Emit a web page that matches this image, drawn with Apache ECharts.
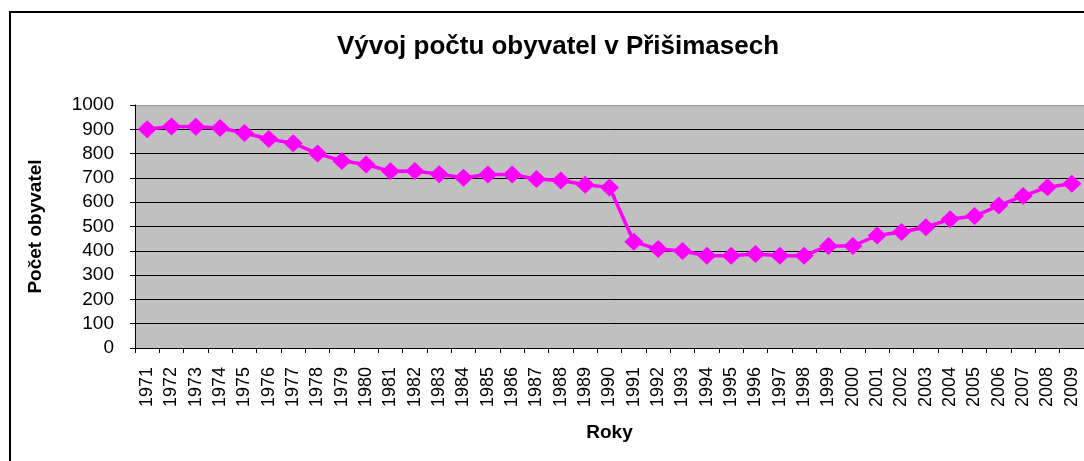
<!DOCTYPE html>
<html>
<head>
<meta charset="utf-8">
<script src="https://cdn.jsdelivr.net/npm/echarts@6/dist/echarts.min.js"></script>
<style>
  html, body { margin: 0; padding: 0; background: #fff; }
  #chart1 { width: 1084px; height: 461px; }
</style>
</head>
<body>
<div id="chart1"></div>
<script>
var roky = ['1971', '1972', '1973', '1974', '1975', '1976', '1977', '1978', '1979', '1980',
    '1981', '1982', '1983', '1984', '1985', '1986', '1987', '1988', '1989', '1990',
    '1991', '1992', '1993', '1994', '1995', '1996', '1997', '1998', '1999', '2000',
    '2001', '2002', '2003', '2004', '2005', '2006', '2007', '2008', '2009'];
var obyvatel = [900, 912, 910, 905, 885, 860, 843, 800, 770, 755,
    727, 728, 715, 701, 714, 714, 695, 689, 672, 661,
    437, 407, 399, 380, 380, 387, 380, 380, 420, 420,
    463, 477, 497, 530, 543, 586, 626, 662, 676];
var gridBarvy = ['#000', '#000', '#000', '#000', '#000', '#000', '#000', '#000', '#000', '#000', '#999'];

var myChart1 = echarts.init(document.getElementById('chart1'));
myChart1.setOption({
    animation: false,
    textStyle: { fontFamily: 'Arial, "Liberation Sans", sans-serif' },
    title: {
        text: 'Vývoj počtu obyvatel v Přišimasech',
        left: 553,
        textAlign: 'center',
        top: 29,
        textStyle: { fontSize: 26, fontWeight: 'bold', color: '#000' }
    },
    graphic: [{
        type: 'rect',
        shape: { x: 10, y: 12, width: 1100, height: 480 },
        style: { fill: 'none', stroke: '#000', lineWidth: 2 },
        silent: true
    }],
    grid: {
        left: 135, top: 105, right: -8, bottom: 113,
        show: true, backgroundColor: '#c0c0c0', borderWidth: 0
    },
    xAxis: {
        type: 'category',
        data: roky,
        boundaryGap: true,
        name: 'Roky',
        nameLocation: 'middle',
        nameGap: 75,
        nameTextStyle: { fontSize: 19, fontWeight: 'bold', color: '#000' },
        axisLine: { lineStyle: { color: '#000', width: 1 } },
        axisTick: { show: true, length: 5, alignWithLabel: false, lineStyle: { color: '#000' } },
        axisLabel: { rotate: 90, fontSize: 18, color: '#000', margin: 19, interval: 0 }
    },
    yAxis: {
        type: 'value',
        min: 0, max: 1000, interval: 100,
        name: 'Počet obyvatel',
        nameLocation: 'middle',
        nameGap: 90,
        nameTextStyle: { fontSize: 19, fontWeight: 'bold', color: '#000' },
        axisLine: { show: true, lineStyle: { color: '#000', width: 1 } },
        axisTick: { show: true, length: 5, lineStyle: { color: '#000' } },
        axisLabel: { fontSize: 19, color: '#000', margin: 21, formatter: function (v) { return String(v); } },
        splitLine: { show: true, lineStyle: { color: gridBarvy, width: 1 } }
    },
    series: [{
        name: 'Počet obyvatel',
        type: 'line',
        data: obyvatel,
        symbol: 'diamond',
        symbolSize: [19, 18],
        lineStyle: { color: '#ff00ff', width: 3.5 },
        itemStyle: { color: '#ff00ff' }
    }]
});
</script>
</body>
</html>
